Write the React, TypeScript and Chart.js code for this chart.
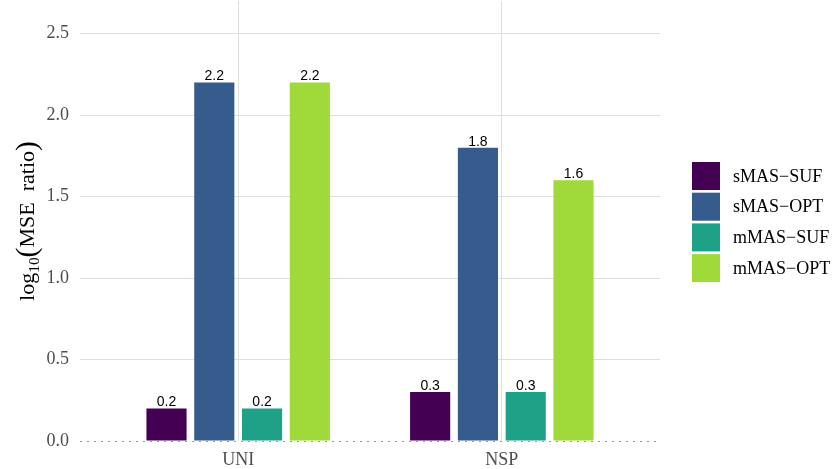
import React, { useEffect, useRef } from 'react';
import { Chart, registerables } from 'chart.js';

Chart.register(...registerables);

const categories = ['UNI', 'NSP'];
const seriesNames = ['sMAS\u2212SUF', 'sMAS\u2212OPT', 'mMAS\u2212SUF', 'mMAS\u2212OPT'];
const sMasSuf = [0.2, 0.3];
const sMasOpt = [2.2, 1.8];
const mMasSuf = [0.2, 0.3];
const mMasOpt = [2.2, 1.6];
const yTicks = [0, 0.5, 1.0, 1.5, 2.0, 2.5];
const yMax = 2.7;

const seriesValues = [sMasSuf, sMasOpt, mMasSuf, mMasOpt];
const colors = ['#440154', '#365C8D', '#1FA187', '#9FDA3A'];
const SERIF = '"Liberation Serif", "DejaVu Serif", serif';
const SANS = '"Liberation Sans", Arial, sans-serif';

const extrasPlugin = {
  id: 'extras',
  afterDatasetsDraw(chart: any) {
    const { ctx, chartArea, scales } = chart;
    const y0 = Math.round(scales.y.getPixelForValue(0)) + 0.5;
    ctx.save();
    ctx.strokeStyle = '#9a9a9a';
    ctx.lineWidth = 1;
    ctx.setLineDash([2, 5]);
    ctx.beginPath();
    ctx.moveTo(chartArea.left, y0);
    ctx.lineTo(chartArea.right, y0);
    ctx.stroke();
    ctx.restore();

    ctx.save();
    ctx.font = `14px ${SANS}`;
    ctx.fillStyle = '#000';
    ctx.textAlign = 'center';
    ctx.textBaseline = 'alphabetic';
    chart.data.datasets.forEach((ds: any, di: number) => {
      const meta = chart.getDatasetMeta(di);
      meta.data.forEach((el: any, i: number) => {
        const v = ds.data[i].y;
        ctx.fillText(Number(v).toFixed(1), el.x, el.y - 2);
      });
    });
    ctx.restore();
  },
  afterDraw(chart: any) {
    const { ctx, chartArea } = chart;
    ctx.save();
    const lx = 692;
    const boxW = 28;
    const boxH = 28;
    const pitch = 30.7;
    const top0 = 162;
    ctx.font = `18px ${SERIF}`;
    ctx.textBaseline = 'middle';
    ctx.textAlign = 'left';
    chart.data.datasets.forEach((ds: any, i: number) => {
      const y = top0 + i * pitch;
      ctx.fillStyle = ds.backgroundColor;
      ctx.fillRect(lx, y, boxW, boxH);
      ctx.fillStyle = '#000';
      ctx.fillText(ds.label, lx + boxW + 13, y + boxH / 2 + 1);
    });
    ctx.restore();

    ctx.save();
    const S = 22;
    const cy = (chartArea.top + chartArea.bottom) / 2;
    ctx.translate(34, cy);
    ctx.rotate(-Math.PI / 2);
    ctx.fillStyle = '#000';
    ctx.textBaseline = 'alphabetic';
    ctx.textAlign = 'left';
    const pieces = [
      { t: 'log', size: S, dy: 0 },
      { t: '10', size: S * 0.7, dy: S * 0.22 },
      { t: '(', size: S * 1.35, dy: S * 0.08 },
      { t: 'MSE\u2002ratio', size: S, dy: 0 },
      { t: ')', size: S * 1.35, dy: S * 0.08 },
    ];
    let total = 0;
    pieces.forEach((p) => {
      ctx.font = `${p.size}px ${SERIF}`;
      total += ctx.measureText(p.t).width;
    });
    let x = -total / 2;
    pieces.forEach((p) => {
      ctx.font = `${p.size}px ${SERIF}`;
      ctx.fillText(p.t, x, p.dy);
      x += ctx.measureText(p.t).width;
    });
    ctx.restore();
  },
};

export default function App() {
  const ref = useRef<HTMLCanvasElement | null>(null);

  useEffect(() => {
    document.body.style.margin = '0';
    const canvas = ref.current;
    if (!canvas) return;
    const chart = new Chart(canvas, {
      type: 'bar',
      data: {
        datasets: seriesNames.map((name, si) => ({
          label: name,
          data: categories.map((c, i) => ({ x: i + 1, y: seriesValues[si][i] })),
          backgroundColor: colors[si],
          borderWidth: 0,
          barPercentage: 0.84,
          categoryPercentage: 0.725,
        })),
      },
      options: {
        animation: false,
        responsive: false,
        maintainAspectRatio: false,
        layout: { padding: { top: 1, right: 178, bottom: 0, left: 0 } },
        plugins: {
          legend: { display: false },
          tooltip: { enabled: false },
        },
        scales: {
          x: {
            type: 'linear',
            offset: false,
            min: 0.4,
            max: 2.6,
            afterBuildTicks: (s: any) => {
              s.ticks = categories.map((_, i) => ({ value: i + 1 }));
            },
            afterFit: (s: any) => {
              s.height = 28;
              s.paddingLeft = 0;
              s.paddingRight = 0;
            },
            ticks: {
              callback: (v: any) => categories[Number(v) - 1] ?? '',
              font: { family: SERIF, size: 18 },
              color: '#4d4d4d',
              padding: 8,
              autoSkip: false,
              maxRotation: 0,
            },
            grid: { color: '#dedede', drawTicks: false, lineWidth: 1, offset: false },
            border: { display: false },
          },
          y: {
            type: 'linear',
            min: 0,
            max: yMax,
            afterBuildTicks: (s: any) => {
              s.ticks = yTicks.map((v) => ({ value: v }));
            },
            afterFit: (s: any) => {
              s.width = 80;
              s.paddingTop = 0;
              s.paddingBottom = 0;
            },
            ticks: {
              callback: (v: any) => Number(v).toFixed(1),
              font: { family: SERIF, size: 18 },
              color: '#4d4d4d',
              padding: 11,
            },
            grid: {
              color: (c: any) => (c.tick && c.tick.value === 0 ? 'rgba(0,0,0,0)' : '#dedede'),
              drawTicks: false,
              lineWidth: 1,
            },
            border: { display: false },
          },
        },
      } as any,
      plugins: [extrasPlugin],
    });
    return () => chart.destroy();
  }, []);

  return (
    <div style={{ width: 838, height: 469 }}>
      <canvas ref={ref} width={838} height={469} style={{ display: 'block', width: 838, height: 469 }} />
    </div>
  );
}
